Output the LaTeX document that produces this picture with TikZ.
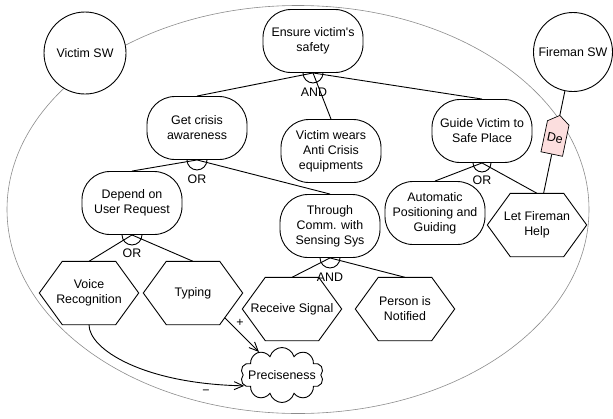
\documentclass[tikz,border=0pt]{standalone}
\usepackage{fontspec}
\setmainfont{Liberation Sans}
\usetikzlibrary{shapes.symbols,arrows.meta,calc}
\pgfdeclarelayer{back}
\pgfsetlayers{back,main}
\definecolor{depfill}{RGB}{252,222,222}
\definecolor{bound}{RGB}{140,140,140}

% hexagonal outline of a task node
\newcommand\taskoutline[1]{%
  \draw[link] (#1.west) -- ([xshift=23pt]#1.north west) -- ([xshift=-23pt]#1.north east)
    -- (#1.east) -- ([xshift=-23pt]#1.south east) -- ([xshift=23pt]#1.south west) -- cycle;}

\begin{document}
\begin{tikzpicture}[x=1pt,y=-1pt,
  every node/.style={font=\fontsize{12.4}{15}\selectfont, align=center, inner sep=0pt},
  link/.style={draw, line width=0.9pt},
  goal/.style={draw, line width=0.9pt, rectangle, rounded corners=28pt,
    minimum width=100pt, minimum height=63pt, fill=white},
  actor/.style={draw, line width=0.9pt, circle, minimum size=82pt, fill=white},
  taskbox/.style={minimum width=99pt, minimum height=63pt},
  softgoal/.style={draw, line width=0.9pt, cloud, cloud puffs=10, cloud ignores aspect,
    minimum width=83pt, minimum height=55pt, fill=white},
  depnode/.style={draw, line width=0.7pt, signal, signal to=north, signal pointer angle=110,
    fill=depfill, minimum width=22pt, minimum height=38pt, inner sep=1pt},
  contrib/.style={link, -{Straight Barb[length=9pt,width=8pt]}},
  gate/.style={font=\fontsize{12.4}{15}\selectfont},
]
\useasboundingbox (0,0) rectangle (613,418);

% system boundary of the victim's software
\begin{pgfonlayer}{back}
  \draw[bound, line width=0.6pt] (298,209.5) ellipse [x radius=291, y radius=204];
\end{pgfonlayer}

% actors
\node[actor] (vsw) at (85,53) {Victim SW};
\node[actor, minimum size=79pt] (fsw) at (573,52) {Fireman SW};

% goals
\node[goal] (ensure)  at (313,41)  {Ensure victim\textquotesingle s\\safety};
\node[goal] (crisis)  at (197,128) {Get crisis\\awareness};
\node[goal] (wears)   at (331,151) {Victim wears\\Anti Crisis\\equipments};
\node[goal] (guide)   at (482,131) {Guide Victim to\\Safe Place};
\node[goal] (depend)  at (132,203) {Depend on\\User Request};
\node[goal] (through) at (330,226) {Through\\Comm. with\\Sensing Sys};
\node[goal] (auto)    at (435,213) {Automatic\\Positioning and\\Guiding};

% tasks
\node[taskbox] (voice)   at (89,293)  {Voice\\Recognition};
\node[taskbox] (typing)  at (193,293) {Typing};
\node[taskbox] (receive) at (292,309) {Receive Signal};
\node[taskbox] (person)  at (405,309) {Person is\\Notified};
\node[taskbox] (letf)    at (537,225) {Let Fireman\\Help};
\foreach \t in {voice,typing,receive,person,letf} {\taskoutline{\t}}

% softgoal
\node[softgoal] (prec) at (282,375) {};
\node (prectext) at (prec) {Preciseness};

% AND decomposition of the top goal
\draw[link] (crisis.north) -- (ensure.south);
\draw[link] (wears.north) -- (ensure.south);
\draw[link] (guide.north) -- (ensure.south);
\draw[link] ([xshift=10pt]ensure.south) arc[start angle=0, end angle=180, radius=10];
\node[gate] (and1) at (314,92) {AND};

% OR decomposition of crisis awareness
\draw[link] (depend.north) -- (crisis.south);
\draw[link] (through.north) -- (crisis.south);
\draw[link] ([xshift=10pt]crisis.south) arc[start angle=0, end angle=180, radius=10];
\node[gate] (or1) at (197,179) {OR};

% OR decomposition of guiding
\draw[link] (auto.north) -- (guide.south);
\draw[link] (letf.north) -- (guide.south);
\draw[link] ([xshift=9pt]guide.south) arc[start angle=0, end angle=180, radius=9];
\node[gate] (or2) at (482,180) {OR};

% OR decomposition of user request
\draw[link] (voice.north) -- (depend.south);
\draw[link] (typing.north) -- (depend.south);
\draw[link] ([xshift=10pt]depend.south) arc[start angle=0, end angle=180, radius=10];
\node[gate] (or3) at (132,253) {OR};

% AND decomposition of communication
\draw[link] (receive.north) -- (through.south);
\draw[link] (person.north) -- (through.south);
\draw[link] ([xshift=10pt]through.south) arc[start angle=0, end angle=180, radius=10];
\node[gate] (and2) at (330,277) {AND};

% dependency on the fireman
\node[depnode, rotate=-11.8] (de) at ($(fsw)!0.5!(letf)$) {De};
\draw[link] (fsw) -- (de);
\draw[link] (de) -- (letf);

% contributions to preciseness
\coordinate (typout) at ($([xshift=-23pt]typing.south east)!0.22!(typing.east)$);
\draw[contrib] (typout) -- (prec);
\node (plus) at (240,323) {+};
\draw[contrib] (voice.south) .. controls +(0,25) and +(-100,-2) .. (prec.196);
\node (minus) at (206,392) {−};
\end{tikzpicture}
\end{document}
